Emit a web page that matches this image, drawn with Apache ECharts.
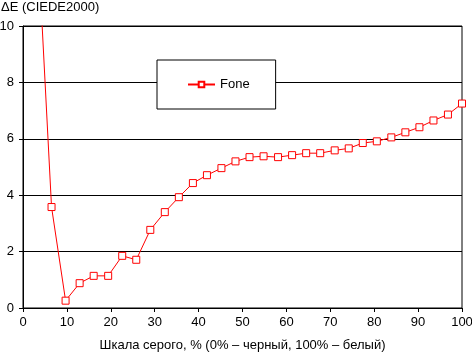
<!DOCTYPE html>
<html>
<head>
<meta charset="utf-8">
<script src="https://cdn.jsdelivr.net/npm/echarts@6/dist/echarts.min.js"></script>
<style>
  html, body { margin: 0; padding: 0; background: #fff; }
  #chart { width: 472px; height: 352px; }
</style>
</head>
<body>
<div id="chart"></div>
<script>
(function() {
    'use strict';

    // шкала серого, %
    var grayLevels = [3.2, 6.5, 9.7, 12.9, 16.1, 19.4, 22.6, 25.8, 29.0, 32.3, 35.5,
        38.7, 41.9, 45.2, 48.4, 51.6, 54.8, 58.1, 61.3, 64.5, 67.7, 71.0, 74.2,
        77.4, 80.6, 83.9, 87.1, 90.3, 93.5, 96.8, 100];
    // ΔE для Fone
    var foneDeltaE = [13.5, 3.58, 0.26, 0.88, 1.14, 1.14, 1.85, 1.71, 2.77, 3.40, 3.93,
        4.43, 4.71, 4.96, 5.20, 5.35, 5.38, 5.35, 5.42, 5.49, 5.49, 5.59, 5.66,
        5.85, 5.91, 6.05, 6.23, 6.41, 6.65, 6.86, 7.25];
    var seriesName = 'Fone';
    var xTicks = [0, 100, 10];
    var yTicks = [0, 10, 2];

    var font = 'Liberation Sans, Arial, sans-serif';
    var points = grayLevels.map(function(x, i) { return [x, foneDeltaE[i]]; });

    var chart = echarts.init(document.getElementById('chart'), null, { renderer: 'canvas' });
    chart.setOption({
        animation: false,
        backgroundColor: '#fff',
        textStyle: { fontFamily: font, color: '#000' },
        title: {
            text: 'ΔE (CIEDE2000)',
            left: -4,
            top: -4,
            textStyle: { fontFamily: font, fontSize: 13, fontWeight: 'normal', color: '#000' }
        },
        legend: {
            left: 157,
            top: 60,
            padding: [18, 26, 18, 30],
            backgroundColor: '#fff',
            borderColor: '#000',
            borderWidth: 1,
            borderRadius: 0,
            itemWidth: 27,
            itemHeight: 7,
            itemGap: 5,
            textStyle: { fontFamily: font, fontSize: 13, color: '#000' },
            data: [seriesName]
        },
        grid: {
            left: 23,
            right: 10,
            top: 26,
            bottom: 44,
            show: true,
            borderColor: '#000',
            borderWidth: 1,
            outerBoundsMode: 'none',
            containLabel: false
        },
        xAxis: {
            type: 'value',
            min: xTicks[0],
            max: xTicks[1],
            interval: xTicks[2],
            name: 'Шкала серого, % (0% – черный, 100% – белый)',
            nameLocation: 'middle',
            nameGap: 31,
            nameTextStyle: { fontFamily: font, fontSize: 13, color: '#000' },
            axisLine: { lineStyle: { color: '#000', width: 1 } },
            axisTick: { length: 4, lineStyle: { color: '#000' } },
            axisLabel: { fontFamily: font, fontSize: 13, color: '#000', margin: 8 },
            splitLine: { show: false }
        },
        yAxis: {
            type: 'value',
            min: yTicks[0],
            max: yTicks[1],
            interval: yTicks[2],
            axisLine: { show: true, lineStyle: { color: '#000', width: 1 } },
            axisTick: { show: true, length: 4, lineStyle: { color: '#000' } },
            axisLabel: { fontFamily: font, fontSize: 13, color: '#000', margin: 9 },
            splitLine: { show: true, lineStyle: { color: '#000', width: 1 } }
        },
        series: [{
            name: seriesName,
            type: 'line',
            data: points,
            clip: true,
            symbol: 'rect',
            symbolSize: 7,
            showAllSymbol: true,
            lineStyle: { color: '#ff0000', width: 1 },
            itemStyle: { color: '#fff', borderColor: '#ff0000', borderWidth: 1 },
            z: 3
        }]
    });
})();
</script>
</body>
</html>
